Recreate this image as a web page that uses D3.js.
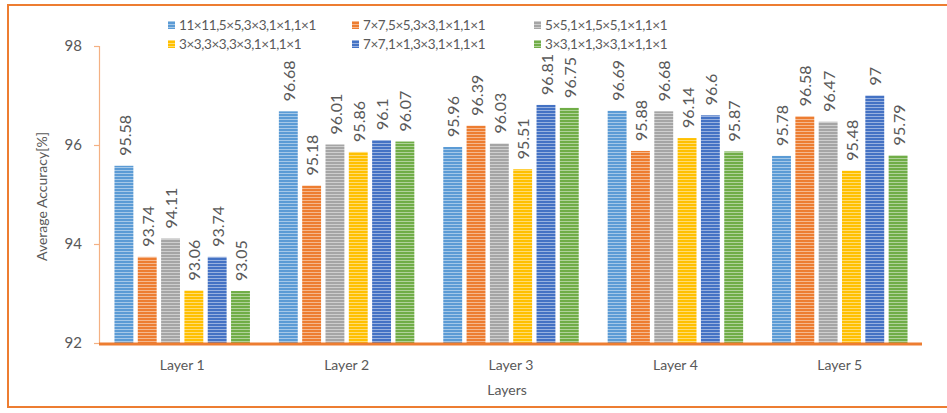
<!DOCTYPE html>
<html>
<head>
<meta charset="utf-8">
<script src="https://cdn.jsdelivr.net/npm/d3@7"></script>
<style>
  html, body { margin: 0; padding: 0; background: #fff; }
  svg { display: block; font-family: Lato, "Open Sans", sans-serif; }
</style>
</head>
<body>
<svg id="chart" width="947" height="413"></svg>
<script>
// Categories along the x axis
const layers = ["Layer 1", "Layer 2", "Layer 3", "Layer 4", "Layer 5"];

// Kernel configurations (one series each)
const seriesNames = [
  "11×11,5×5,3×3,1×1,1×1",
  "7×7,5×5,3×3,1×1,1×1",
  "5×5,1×1,5×5,1×1,1×1",
  "3×3,3×3,3×3,1×1,1×1",
  "7×7,1×1,3×3,1×1,1×1",
  "3×3,1×1,3×3,1×1,1×1"
];

// Average accuracy per layer for each configuration
const s1 = [95.58, 96.68, 95.96, 96.69, 95.78];
const s2 = [93.74, 95.18, 96.39, 95.88, 96.58];
const s3 = [94.11, 96.01, 96.03, 96.68, 96.47];
const s4 = [93.06, 95.86, 95.51, 96.14, 95.48];
const s5 = [93.74, 96.10, 96.81, 96.60, 97.00];
const s6 = [93.05, 96.07, 96.75, 95.87, 95.79];
const seriesValues = [s1, s2, s3, s4, s5, s6];

const yTicks = [92, 94, 96, 98];

const colors = ["#5B9BD5", "#ED7D31", "#A5A5A5", "#FFC000", "#4472C4", "#70AD47"];
const textColor = "#595959";
const accent = "#ED7D31";

const svg = d3.select("#chart");

// Striped fills for bars
const defs = svg.append("defs");
colors.forEach((c, i) => {
  const light = d3.interpolateRgb(c, "#ffffff")(0.45);
  const p = defs.append("pattern")
    .attr("id", "stripe" + i)
    .attr("patternUnits", "userSpaceOnUse")
    .attr("width", 8).attr("height", 3);
  p.append("rect").attr("width", 8).attr("height", 3).attr("fill", c);
  p.append("rect").attr("y", 2).attr("width", 8).attr("height", 1).attr("fill", light);
});

// Outer frame
svg.append("rect")
  .attr("x", 8).attr("y", 5)
  .attr("width", 960).attr("height", 402)
  .attr("fill", "none")
  .attr("stroke", accent)
  .attr("stroke-width", 2);

const margin = { left: 100, right: 25, top: 46, bottom: 70 };
const plotW = 947 - margin.left - margin.right;
const plotBottom = 343;

const x0 = d3.scaleBand().domain(layers).range([margin.left, margin.left + plotW]).paddingInner(0).paddingOuter(0);
const x1 = d3.scaleBand().domain(d3.range(seriesNames.length))
  .range([14, x0.bandwidth() - 14]).paddingInner(0.19).paddingOuter(0.02);
const y = d3.scaleLinear().domain([92, 98]).range([plotBottom, margin.top]);

// Y axis
const yAxis = d3.axisLeft(y).tickValues(yTicks).tickSize(5).tickPadding(12).tickFormat(d3.format("d"));
const gy = svg.append("g").attr("transform", `translate(${margin.left - 1},0)`).call(yAxis);
gy.select(".domain").attr("stroke", "#F4B183").attr("stroke-width", 1.2);
gy.selectAll(".tick line").attr("stroke", "#F4B183").attr("stroke-width", 1.2);
gy.selectAll(".tick text").attr("fill", textColor).attr("font-size", 15).attr("font-family", "Lato, sans-serif");

// Bars
const groups = svg.append("g").selectAll("g")
  .data(layers)
  .join("g")
  .attr("transform", d => `translate(${x0(d)},0)`);

groups.selectAll("rect")
  .data((d, li) => seriesValues.map((vals, si) => ({ si, v: vals[li] })))
  .join("rect")
  .attr("x", d => x1(d.si))
  .attr("y", d => y(d.v))
  .attr("width", x1.bandwidth())
  .attr("height", d => y(92) - y(d.v))
  .attr("fill", d => `url(#stripe${d.si})`);

// Value labels, rotated above each bar
groups.selectAll("text")
  .data((d, li) => seriesValues.map((vals, si) => ({ si, v: vals[li] })))
  .join("text")
  .attr("transform", d => `translate(${x1(d.si) + x1.bandwidth() / 2 + 1},${y(d.v) - 10}) rotate(-90)`)
  .attr("dy", "0.35em")
  .attr("text-anchor", "start")
  .attr("fill", textColor)
  .attr("font-size", 16)
  .text(d => String(+d.v.toFixed(2)));

// X axis baseline
svg.append("line")
  .attr("x1", margin.left - 1).attr("x2", margin.left + plotW)
  .attr("y1", plotBottom + 1).attr("y2", plotBottom + 1)
  .attr("stroke", accent).attr("stroke-width", 3);

// Category labels
svg.append("g").selectAll("text")
  .data(layers)
  .join("text")
  .attr("x", d => x0(d) + x0.bandwidth() / 2)
  .attr("y", 370)
  .attr("text-anchor", "middle")
  .attr("fill", textColor)
  .attr("font-size", 14)
  .text(d => d);

// Axis titles
svg.append("text")
  .attr("x", margin.left + plotW / 2 - 4)
  .attr("y", 395)
  .attr("text-anchor", "middle")
  .attr("fill", textColor)
  .attr("font-size", 14)
  .text("Layers");

svg.append("text")
  .attr("transform", `translate(47,${(plotBottom + margin.top) / 2 + 2}) rotate(-90)`)
  .attr("text-anchor", "middle")
  .attr("fill", textColor)
  .attr("font-size", 14)
  .text("Average Accuracy[%]");

// Legend
const legendCols = [168, 352, 534];
const legendRows = [25, 44];
const legend = svg.append("g").selectAll("g")
  .data(seriesNames)
  .join("g")
  .attr("transform", (d, i) => `translate(${legendCols[i % 3]},${legendRows[Math.floor(i / 3)]})`);
legend.append("rect")
  .attr("x", 0).attr("y", -4).attr("width", 7).attr("height", 8)
  .attr("fill", (d, i) => `url(#stripe${i})`);
legend.append("text")
  .attr("x", 11)
  .attr("dy", "0.35em")
  .attr("fill", textColor)
  .attr("font-size", 13.5)
  .attr("letter-spacing", "-0.4px")
  .text(d => d);
</script>
</body>
</html>
